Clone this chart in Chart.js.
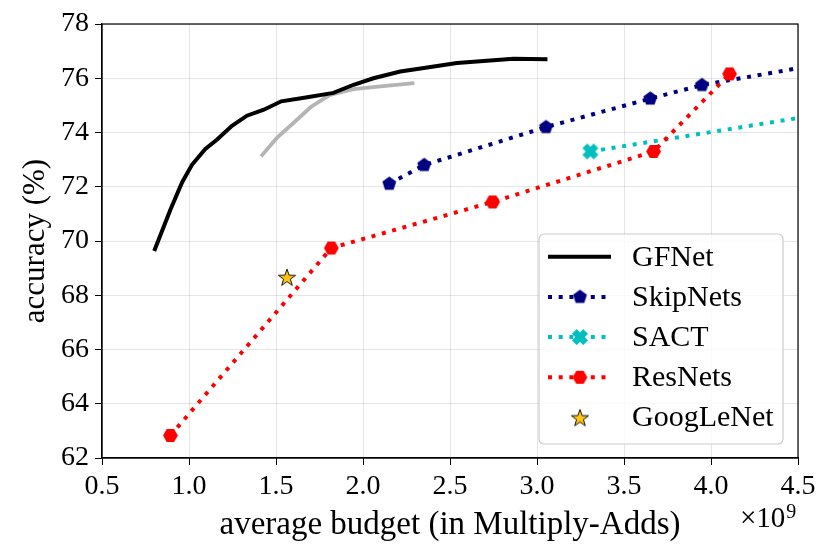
<!DOCTYPE html>
<html>
<head>
    <title>Accuracy vs budget</title>
    <script src="https://cdn.jsdelivr.net/npm/chart.js"></script>
    <style>
        body {
            margin: 0;
            background: #ffffff;
        }
        .chart-container {
            position: relative;
            width: 831px;
            height: 558px;
        }
    </style>
</head>
<body>
    <div class="chart-container">
        <canvas id="budgetChart"></canvas>
    </div>

    <script>
        // budget values are in units of 1e9 Multiply-Adds
        var gfnetX = [0.80, 0.893, 0.96, 1.017, 1.094, 1.16, 1.247, 1.333, 1.43, 1.53, 1.68, 1.83, 1.946, 2.06, 2.214, 2.35, 2.54, 2.865, 3.06];
        var gfnetY = [69.63, 71.15, 72.16, 72.81, 73.39, 73.73, 74.25, 74.62, 74.84, 75.15, 75.30, 75.46, 75.76, 76.00, 76.25, 76.38, 76.56, 76.72, 76.70];

        var grayX = [1.414, 1.505, 1.60, 1.70, 1.81, 1.946, 2.10, 2.295];
        var grayY = [73.12, 73.80, 74.35, 74.94, 75.39, 75.60, 75.70, 75.82];

        var skipX = [2.151, 2.352, 3.052, 3.651, 3.948, 5.0];
        var skipY = [72.11, 72.80, 74.20, 75.25, 75.75, 76.93];

        var sactX = [3.307, 5.0];
        var sactY = [73.30, 75.05];

        var resX = [0.893, 1.818, 2.745, 3.67, 4.107];
        var resY = [62.83, 69.74, 71.44, 73.30, 76.16];

        var googX = [1.563];
        var googY = [68.67];

        var xTicks = [0.5, 1.0, 1.5, 2.0, 2.5, 3.0, 3.5, 4.0, 4.5];
        var yTicks = [62, 64, 66, 68, 70, 72, 74, 76, 78];

        var serif = '"Liberation Serif", "DejaVu Serif", serif';

        function toPoints(xs, ys) {
            return xs.map(function(x, i) { return { x: x, y: ys[i] }; });
        }

        // small canvases used as marker images
        function polygonMarker(sides, r, rot, fill) {
            var c = document.createElement('canvas');
            var s = Math.ceil(r * 2 + 2);
            c.width = s; c.height = s;
            var g = c.getContext('2d');
            g.beginPath();
            for (var i = 0; i < sides; i++) {
                var a = rot + i * 2 * Math.PI / sides;
                var px = s / 2 + r * Math.cos(a);
                var py = s / 2 + r * Math.sin(a);
                if (i === 0) g.moveTo(px, py); else g.lineTo(px, py);
            }
            g.closePath();
            g.fillStyle = fill;
            g.fill();
            return c;
        }

        function xMarker(r, fill) {
            var c = document.createElement('canvas');
            var s = Math.ceil(r * 2 + 2);
            c.width = s; c.height = s;
            var g = c.getContext('2d');
            g.translate(s / 2, s / 2);
            g.rotate(Math.PI / 4);
            var w = r * 0.42;
            g.fillStyle = fill;
            g.fillRect(-r, -w, 2 * r, 2 * w);
            g.fillRect(-w, -r, 2 * w, 2 * r);
            return c;
        }

        function starMarker(r, fill) {
            var c = document.createElement('canvas');
            var s = Math.ceil(r * 2 + 4);
            c.width = s; c.height = s;
            var g = c.getContext('2d');
            g.beginPath();
            for (var i = 0; i < 10; i++) {
                var rr = i % 2 === 0 ? r : r * 0.4;
                var a = -Math.PI / 2 + i * Math.PI / 5;
                var px = s / 2 + rr * Math.cos(a);
                var py = s / 2 + 1 + rr * Math.sin(a);
                if (i === 0) g.moveTo(px, py); else g.lineTo(px, py);
            }
            g.closePath();
            g.fillStyle = fill;
            g.fill();
            g.lineWidth = 0.9;
            g.strokeStyle = '#000000';
            g.stroke();
            return c;
        }

        var pentagon = polygonMarker(5, 7.3, -Math.PI / 2, '#000080');
        var hexagon = polygonMarker(6, 7.4, 0, '#ff0000');
        var cross = xMarker(8, '#00bfbf');
        var star = starMarker(9, '#fcc414');

        var dotted = [4, 6.7];

        var datasets = [
            { label: 'GoogLeNet', data: toPoints(googX, googY), showLine: false, pointStyle: star, pointRadius: 8, borderColor: '#fcc414', backgroundColor: '#fcc414' },
            { label: 'ResNets', data: toPoints(resX, resY), borderColor: '#ff0000', borderWidth: 4, borderDash: dotted, pointStyle: hexagon, pointRadius: 7 },
            { label: 'SACT', data: toPoints(sactX, sactY), borderColor: '#00bfbf', borderWidth: 4, borderDash: dotted, pointStyle: cross, pointRadius: 8 },
            { label: 'SkipNets', data: toPoints(skipX, skipY), borderColor: '#000080', borderWidth: 4, borderDash: dotted, pointStyle: pentagon, pointRadius: 7 },
            { label: 'GFNet', data: toPoints(gfnetX, gfnetY), borderColor: '#000000', borderWidth: 4, pointRadius: 0 },
            { label: '', data: toPoints(grayX, grayY), borderColor: '#b4b4b4', borderWidth: 3.8, pointRadius: 0 }
        ];

        var legendOrder = ['GFNet', 'SkipNets', 'SACT', 'ResNets', 'GoogLeNet'];

        // matplotlib-like legend box, axis titles, offset text and top/right spines
        var decorPlugin = {
            id: 'decor',
            afterDraw: function(chart) {
                var ctx = chart.ctx;
                var area = chart.chartArea;
                ctx.save();

                ctx.strokeStyle = '#000000';
                ctx.lineWidth = 1.2;
                ctx.strokeRect(area.left, area.top, area.right - area.left, area.bottom - area.top);

                // legend
                var bx = 539, by = 234, bw = 244, bh = 210;
                ctx.beginPath();
                ctx.roundRect(bx, by, bw, bh, 5);
                ctx.fillStyle = 'rgba(255,255,255,0.8)';
                ctx.fill();
                ctx.strokeStyle = '#cccccc';
                ctx.lineWidth = 1.2;
                ctx.stroke();

                ctx.font = '30px ' + serif;
                ctx.textBaseline = 'middle';
                ctx.textAlign = 'left';
                legendOrder.forEach(function(name, i) {
                    var ds = chart.data.datasets.find(function(d) { return d.label === name; });
                    var cy = 256.7 + i * 40.2;
                    if (ds.showLine !== false) {
                        ctx.beginPath();
                        ctx.setLineDash(ds.borderDash || []);
                        ctx.lineWidth = ds.borderWidth;
                        ctx.strokeStyle = ds.borderColor;
                        ctx.moveTo(548, cy);
                        ctx.lineTo(611, cy);
                        ctx.stroke();
                        ctx.setLineDash([]);
                    }
                    if (ds.pointStyle && typeof ds.pointStyle !== 'string') {
                        var img = ds.pointStyle;
                        ctx.drawImage(img, 580 - img.width / 2, cy - img.height / 2);
                    }
                    ctx.fillStyle = '#000000';
                    ctx.fillText(name, 632, cy + 1);
                });

                // axis titles
                ctx.fillStyle = '#000000';
                ctx.font = '33px ' + serif;
                ctx.textAlign = 'center';
                ctx.textBaseline = 'alphabetic';
                ctx.fillText('average budget (in Multiply-Adds)', (area.left + area.right) / 2, 534);

                ctx.save();
                ctx.font = '31px ' + serif;
                ctx.translate(44, (area.top + area.bottom) / 2);
                ctx.rotate(-Math.PI / 2);
                ctx.fillText('accuracy (%)', 0, 0);
                ctx.restore();

                ctx.textAlign = 'left';
                ctx.font = '29px ' + serif;
                var offText = '\u00d710';
                ctx.fillText(offText, 740, 527);
                var w = ctx.measureText(offText).width;
                ctx.font = '20px ' + serif;
                ctx.fillText('9', 740 + w + 1, 518);

                ctx.restore();
            }
        };

        var chart = new Chart(document.getElementById('budgetChart').getContext('2d'), {
            type: 'line',
            data: { datasets: datasets },
            plugins: [decorPlugin],
            options: {
                responsive: true,
                maintainAspectRatio: false,
                animation: false,
                layout: { padding: { left: 0, right: 33, top: 24, bottom: 0 } },
                plugins: {
                    legend: { display: false },
                    tooltip: { enabled: false }
                },
                elements: {
                    line: { tension: 0, borderCapStyle: 'butt' },
                    point: { borderWidth: 0 }
                },
                scales: {
                    x: {
                        type: 'linear',
                        min: 0.5,
                        max: 4.5,
                        afterBuildTicks: function(scale) {
                            scale.ticks = xTicks.map(function(v) { return { value: v }; });
                        },
                        afterFit: function(scale) { scale.height = 100; },
                        ticks: {
                            autoSkip: false,
                            maxRotation: 0,
                            padding: 5,
                            color: '#000000',
                            font: { family: serif, size: 28 },
                            callback: function(v) { return v.toFixed(1); }
                        },
                        grid: { color: 'rgba(0,0,0,0.1)', tickColor: '#000000', tickLength: 7, lineWidth: 1 },
                        border: { color: '#000000', width: 1.2 }
                    },
                    y: {
                        type: 'linear',
                        min: 62,
                        max: 78,
                        afterBuildTicks: function(scale) {
                            scale.ticks = yTicks.map(function(v) { return { value: v }; });
                        },
                        afterFit: function(scale) { scale.width = 102; },
                        ticks: {
                            autoSkip: false,
                            padding: 6,
                            color: '#000000',
                            font: { family: serif, size: 28 },
                            callback: function(v) { return String(v); }
                        },
                        grid: { color: 'rgba(0,0,0,0.1)', tickColor: '#000000', tickLength: 7, lineWidth: 1 },
                        border: { color: '#000000', width: 1.2 }
                    }
                }
            }
        });
    </script>
</body>
</html>
